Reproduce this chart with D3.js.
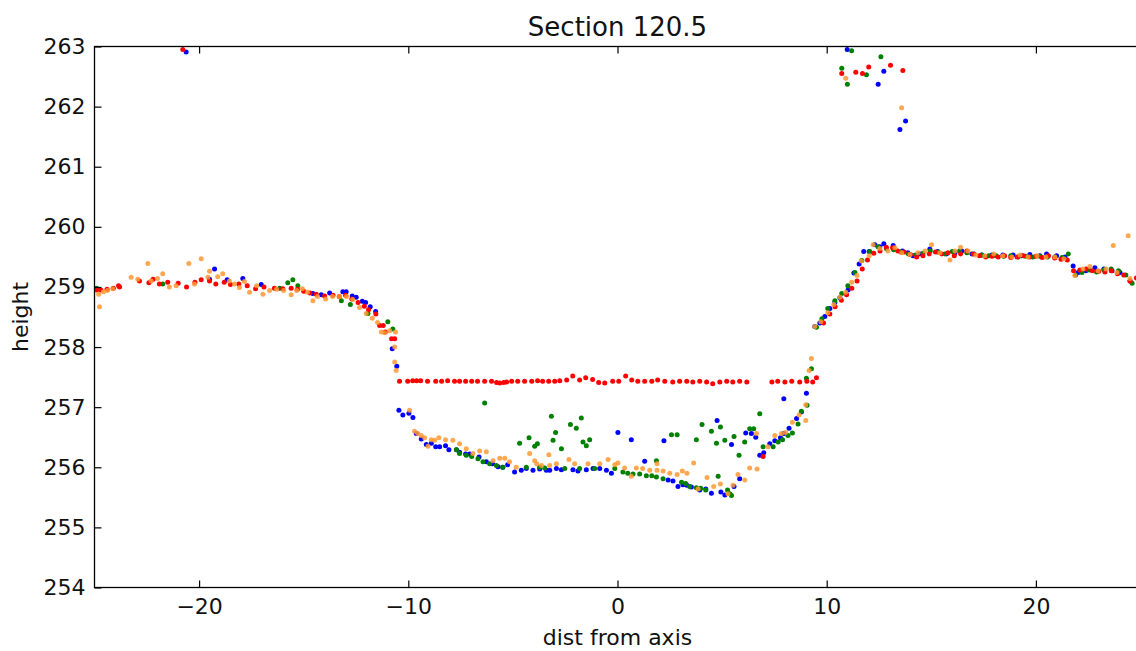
<!DOCTYPE html>
<html>
<head>
<meta charset="utf-8">
<script src="https://cdn.jsdelivr.net/npm/d3@7"></script>
<style>
  body { margin: 0; background: #fff; }
  svg { display: block; font-family: "DejaVu Sans", sans-serif; }
</style>
</head>
<body>
<svg id="chart" width="1136" height="651"></svg>
<script>
// labels and ticks
const title = "Section 120.5";
const xLabel = "dist from axis";
const yLabel = "height";
const xTicks = [-20, -10, 0, 10, 20];
const yTicks = [254, 255, 256, 257, 258, 259, 260, 261, 262, 263];

// survey points per pass, [dist, height]
const bluePts = [
  [-20.62, 262.91],
  [-19.5, 259.13], [-19.26, 259.3], [-18.66, 259.12], [-17.91, 259.14], [-17.03, 259.04],
  [-14.56, 258.89], [-14.16, 258.87], [-13.76, 258.9], [-13.13, 258.92], [-12.97, 258.92], [-12.68, 258.85],
  [-12.49, 258.83], [-12.2, 258.76], [-12.04, 258.74], [-11.82, 258.67], [-11.56, 258.59], [-10.77, 257.97],
  [-10.55, 257.68], [-10.45, 256.95], [-10.26, 256.87], [-9.97, 256.9], [-9.78, 256.83],
  [-9.62, 256.56], [-9.38, 256.47], [-9.14, 256.38], [-8.9, 256.4], [-8.69, 256.34], [-8.5, 256.34],
  [-8.22, 256.36], [-8.06, 256.29], [-7.7, 256.29], [-7.55, 256.25], [-7.26, 256.22], [-7.07, 256.22],
  [-6.62, 256.17], [-6.27, 256.09], [-5.97, 256.06], [-5.71, 256.01], [-5.48, 256.0], [-5.25, 256.04],
  [-4.92, 255.92], [-4.6, 255.95], [-4.36, 255.98], [-4.04, 255.95], [-3.72, 255.97], [-3.4, 255.95],
  [-3.24, 255.95], [-2.92, 255.98], [-2.68, 255.96], [-2.13, 255.96], [-1.89, 255.94], [-1.49, 255.96],
  [-1.17, 255.98], [-0.85, 255.98], [-0.53, 255.95], [-0.29, 255.9],
  [0.02, 256.58], [0.66, 256.46], [1.3, 256.1], [2.22, 256.44],
  [2.42, 255.79], [2.65, 255.77], [2.89, 255.68], [3.13, 255.71], [3.32, 255.7], [3.53, 255.67],
  [3.93, 255.62], [4.22, 255.64], [4.49, 255.57], [4.94, 255.59], [5.13, 255.54], [5.57, 255.68], [5.84, 255.81],
  [4.76, 256.78], [5.45, 256.38],
  [6.13, 256.57], [6.4, 256.56], [6.61, 256.5], [6.8, 256.2], [6.99, 256.24], [7.28, 256.39], [7.52, 256.44],
  [7.79, 256.49], [7.95, 256.56], [8.2, 256.65], [8.56, 256.81], [8.79, 256.92], [7.95, 257.14], [9.03, 257.23],
  [9.43, 258.34], [9.67, 258.4], [9.91, 258.51], [10.15, 258.64], [10.39, 258.74], [10.63, 258.82],
  [11.02, 258.95], [11.3, 259.23], [11.55, 259.38], [11.77, 259.59], [12.03, 259.59], [12.3, 259.7],
  [12.54, 259.67], [12.73, 259.72], [13.18, 259.69], [13.62, 259.6], [13.88, 259.57], [14.13, 259.52],
  [14.45, 259.55], [14.93, 259.63], [15.31, 259.59], [15.73, 259.55], [16.13, 259.57], [16.46, 259.6],
  [16.94, 259.55], [17.42, 259.53], [17.9, 259.53], [18.42, 259.53], [18.91, 259.53], [19.33, 259.52],
  [19.71, 259.54], [20.19, 259.52], [20.51, 259.55], [20.99, 259.52], [21.39, 259.5], [21.78, 259.35],
  [22.02, 259.24], [22.39, 259.27], [22.82, 259.32], [23.25, 259.3], [23.64, 259.27], [24.02, 259.24], [24.5, 259.1],
  [10.98, 262.95], [12.73, 262.59], [12.46, 262.37], [13.77, 261.76], [13.5, 261.62]
];

const greenPts = [
  [-24.9, 258.98], [-21.74, 259.05], [-16.15, 258.98], [-15.76, 259.07], [-15.52, 259.12], [-15.28, 259.02],
  [-13.2, 258.77], [-12.77, 258.71], [-11.93, 258.56], [-10.98, 258.42], [-10.74, 258.3],
  [-6.35, 257.07],
  [-7.7, 256.29], [-7.55, 256.23], [-7.23, 256.2], [-6.97, 256.18], [-6.67, 256.14], [-6.43, 256.09],
  [-6.11, 256.06], [-5.79, 256.03], [-5.49, 256.0], [-4.36, 256.0], [-3.72, 256.0], [-3.48, 255.99],
  [-2.52, 255.98], [-1.81, 255.98], [-1.09, 255.98], [-0.13, 255.98], [0.26, 255.92], [0.49, 255.9],
  [0.74, 255.89], [1.06, 255.89], [1.38, 255.86], [1.64, 255.86], [1.86, 255.84], [2.18, 255.81],
  [3.06, 255.75], [3.26, 255.73], [3.45, 255.68], [3.77, 255.66], [3.98, 255.65], [4.22, 255.62],
  [4.81, 255.85], [5.26, 255.62], [5.37, 255.56], [5.45, 255.53],
  [-4.68, 256.4], [-4.23, 256.49], [-3.96, 256.35], [-3.83, 256.39], [-3.16, 256.85], [-2.96, 256.58],
  [-3.08, 256.45], [-2.68, 256.31], [-2.25, 256.71], [-1.97, 256.65], [-1.73, 256.82], [-1.65, 256.42],
  [-1.49, 256.36], [-1.33, 256.46], [1.86, 256.11], [2.58, 256.54], [2.85, 256.54], [3.77, 256.46],
  [4.04, 256.71], [4.49, 256.6], [4.73, 256.4], [4.92, 256.67], [5.13, 256.45], [5.57, 256.51],
  [5.81, 256.2], [6.08, 256.42], [6.32, 256.64], [6.51, 256.64], [6.8, 256.89],
  [6.96, 256.34], [7.44, 256.34], [7.68, 256.42], [7.89, 256.46], [8.15, 256.53], [8.36, 256.57],
  [8.63, 256.72], [8.79, 256.93], [9.06, 257.03], [9.03, 257.48], [9.27, 257.64],
  [9.51, 258.33], [9.77, 258.47], [10.05, 258.64], [10.39, 258.77], [10.72, 258.89], [11.01, 259.02],
  [11.35, 259.24], [11.68, 259.44], [12.06, 259.59], [12.45, 259.67], [12.85, 259.64], [13.2, 259.62],
  [13.55, 259.58], [13.9, 259.55], [14.25, 259.53], [14.6, 259.56], [14.95, 259.6], [15.3, 259.58],
  [15.65, 259.55], [16.0, 259.59], [16.35, 259.6], [16.7, 259.57], [17.05, 259.55], [17.4, 259.53],
  [17.75, 259.52], [18.1, 259.52], [18.45, 259.51], [18.8, 259.52], [19.15, 259.5], [19.5, 259.51],
  [19.85, 259.5], [20.2, 259.51], [20.55, 259.5], [20.9, 259.5], [21.25, 259.49], [21.55, 259.55],
  [21.9, 259.2], [22.2, 259.24], [22.55, 259.28], [22.9, 259.25], [23.25, 259.28], [23.6, 259.3],
  [23.95, 259.27], [24.3, 259.2], [24.6, 259.06], [24.9, 259.2],
  [11.19, 262.93], [12.59, 262.83], [10.72, 262.64], [11.9, 262.53], [10.99, 262.37]
];

const redPts = [
  [-20.78, 262.95],
  [-24.9, 258.95], [-24.7, 258.95], [-24.4, 258.96], [-24.1, 258.98], [-23.85, 259.02], [-23.8, 259.0],
  [-22.85, 259.1], [-22.4, 259.07], [-22.2, 259.13], [-21.9, 259.05], [-21.5, 259.08], [-21.0, 259.06],
  [-20.6, 259.0], [-20.2, 259.08], [-19.9, 259.12], [-19.5, 259.1], [-19.2, 259.05], [-18.8, 259.08],
  [-18.5, 259.04], [-18.1, 259.05], [-17.7, 259.02], [-17.3, 258.97], [-16.9, 259.0], [-16.4, 258.98],
  [-16.0, 258.97], [-15.6, 258.98], [-15.3, 258.96], [-15.0, 258.93], [-14.7, 258.9], [-14.4, 258.88],
  [-14.0, 258.85], [-13.6, 258.86], [-13.3, 258.84], [-13.0, 258.86], [-12.7, 258.8], [-12.4, 258.74],
  [-12.1, 258.68], [-11.9, 258.62], [-11.55, 258.55], [-11.37, 258.36], [-11.2, 258.36], [-11.1, 258.25],
  [-10.8, 258.14], [-10.65, 258.14],
  [-10.42, 257.43], [-10.03, 257.43], [-9.79, 257.44], [-9.6, 257.44], [-9.41, 257.44], [-9.08, 257.43],
  [-8.69, 257.43], [-8.41, 257.43], [-8.12, 257.44], [-7.79, 257.43], [-7.55, 257.43], [-7.26, 257.43],
  [-6.97, 257.43], [-6.69, 257.43], [-6.35, 257.43], [-6.02, 257.43], [-5.78, 257.41], [-5.63, 257.4],
  [-5.44, 257.41], [-5.3, 257.42], [-5.06, 257.43], [-4.77, 257.43], [-4.44, 257.43], [-4.1, 257.43],
  [-3.82, 257.44], [-3.58, 257.43], [-3.29, 257.43], [-3.0, 257.43], [-2.76, 257.44], [-2.43, 257.45],
  [-2.14, 257.52], [-1.81, 257.45], [-1.52, 257.49], [-1.19, 257.46], [-0.9, 257.41], [-0.61, 257.4],
  [-0.23, 257.43], [0.06, 257.43], [0.39, 257.52], [0.68, 257.45], [0.97, 257.43], [1.3, 257.43],
  [1.64, 257.43], [1.92, 257.45], [2.26, 257.43], [2.64, 257.42], [2.97, 257.43], [3.31, 257.43],
  [3.6, 257.42], [3.93, 257.43], [4.26, 257.42], [4.55, 257.39], [4.89, 257.42], [5.22, 257.43],
  [5.51, 257.42], [5.84, 257.43], [6.18, 257.42], [7.38, 257.42], [7.66, 257.43], [8.0, 257.42],
  [8.33, 257.43], [8.71, 257.42], [9.05, 257.43], [9.33, 257.42], [9.51, 257.49],
  [6.96, 256.18],
  [9.85, 258.4], [10.15, 258.55], [10.4, 258.67], [10.7, 258.78], [10.95, 258.87], [11.2, 258.98],
  [11.45, 259.1], [11.7, 259.3], [11.95, 259.45], [12.25, 259.56], [12.55, 259.6], [12.85, 259.66],
  [13.15, 259.65], [13.4, 259.6], [13.7, 259.58], [14.0, 259.54], [14.3, 259.5], [14.6, 259.52],
  [14.9, 259.55], [15.2, 259.58], [15.5, 259.55], [15.8, 259.57], [16.1, 259.52], [16.4, 259.55],
  [16.7, 259.6], [17.0, 259.55], [17.3, 259.52], [17.6, 259.5], [17.9, 259.51], [18.2, 259.5],
  [18.5, 259.52], [18.8, 259.49], [19.1, 259.5], [19.4, 259.52], [19.7, 259.5], [20.0, 259.51],
  [20.3, 259.49], [20.6, 259.52], [20.9, 259.48], [21.2, 259.46], [21.5, 259.45], [21.8, 259.27],
  [22.1, 259.28], [22.4, 259.3], [22.7, 259.27], [23.0, 259.26], [23.3, 259.25], [23.6, 259.27],
  [23.9, 259.22], [24.2, 259.2], [24.5, 259.1], [24.8, 259.15],
  [10.72, 262.55], [11.39, 262.57], [11.71, 262.55], [12.01, 262.66], [13.05, 262.69], [13.64, 262.6]
];

const orangePts = [
  [-24.76, 258.67], [-24.8, 258.88], [-24.57, 258.92], [-24.38, 258.94], [-24.13, 258.97], [-23.25, 259.16],
  [-22.93, 259.13], [-22.45, 259.39], [-22.29, 259.1], [-21.99, 259.14], [-21.74, 259.22], [-21.42, 259.0],
  [-21.1, 259.02], [-20.49, 259.39], [-20.22, 259.05], [-19.9, 259.47], [-19.58, 259.16], [-19.5, 259.26],
  [-19.11, 259.17], [-18.87, 259.22], [-18.55, 259.1], [-18.31, 259.05], [-18.07, 258.99], [-17.83, 259.09],
  [-17.59, 258.91], [-17.25, 259.02], [-16.95, 258.88], [-16.63, 258.94], [-16.3, 258.96], [-15.96, 258.94],
  [-15.6, 258.87], [-15.34, 258.94], [-15.06, 258.97], [-14.82, 258.91], [-14.56, 258.77], [-14.34, 258.84],
  [-13.95, 258.8], [-13.62, 258.84], [-13.29, 258.84], [-12.95, 258.84], [-12.66, 258.79], [-12.33, 258.66],
  [-12.01, 258.56], [-11.72, 258.48], [-11.47, 258.41], [-11.29, 258.25], [-11.13, 258.24], [-10.89, 258.27],
  [-10.61, 258.25], [-10.65, 258.0], [-10.65, 257.75], [-10.58, 257.61],
  [-9.94, 256.95], [-9.7, 256.6], [-9.55, 256.56], [-9.38, 256.53], [-9.22, 256.49], [-9.06, 256.35],
  [-8.9, 256.46], [-8.74, 256.45], [-8.54, 256.49], [-8.22, 256.46], [-7.87, 256.45], [-7.55, 256.39],
  [-7.23, 256.31], [-6.91, 256.23], [-6.59, 256.27], [-6.27, 256.26], [-5.95, 256.11], [-5.63, 256.15],
  [-5.39, 256.15], [-5.16, 256.09], [-4.84, 256.0], [-4.2, 256.23], [-3.96, 256.11], [-3.86, 256.06],
  [-3.63, 256.03], [-3.28, 256.21], [-3.24, 256.03], [-2.92, 256.06], [-2.32, 256.13], [-2.05, 256.06],
  [-1.41, 256.06], [-0.85, 256.06], [-0.45, 256.13], [-0.13, 256.04], [0.02, 256.07], [0.34, 255.99],
  [0.66, 255.85], [0.9, 255.99], [1.2, 255.98], [1.54, 255.95], [1.89, 256.06], [1.89, 255.95],
  [2.18, 255.94], [2.5, 255.9], [2.85, 255.88], [3.1, 255.94], [3.32, 255.9], [3.64, 256.07],
  [3.85, 255.64], [4.28, 255.83], [4.6, 255.68], [4.92, 255.72], [5.28, 255.56], [5.52, 255.7],
  [5.76, 255.88], [6.08, 255.79], [6.32, 255.99], [6.67, 255.97],
  [6.64, 256.56], [7.2, 256.34], [7.52, 256.53], [7.84, 256.56], [8.04, 256.58], [8.36, 256.75],
  [8.68, 256.87], [9.0, 257.04], [9.0, 256.78], [9.16, 257.61], [9.27, 257.81],
  [9.43, 258.34], [9.72, 258.42], [10.05, 258.57], [10.34, 258.71], [10.63, 258.83], [10.91, 258.91],
  [11.19, 259.08], [11.45, 259.19], [11.66, 259.43], [12.03, 259.52], [12.22, 259.7], [12.54, 259.64],
  [12.92, 259.6], [13.26, 259.65], [13.59, 259.57], [13.98, 259.54], [14.36, 259.57], [14.7, 259.6],
  [15.01, 259.7], [15.41, 259.57], [15.89, 259.45], [16.13, 259.6], [16.4, 259.66], [16.75, 259.6],
  [17.13, 259.53], [17.56, 259.52], [17.99, 259.55], [18.42, 259.52], [18.85, 259.5], [19.24, 259.53],
  [19.62, 259.5], [20.05, 259.52], [20.48, 259.5], [20.91, 259.5], [21.34, 259.47], [21.86, 259.19],
  [22.25, 259.3], [22.58, 259.34], [22.97, 259.27], [23.35, 259.3], [23.7, 259.69], [23.87, 259.24],
  [24.41, 259.85], [24.5, 259.14],
  [10.91, 262.47], [13.58, 261.98]
];

const series = [
  { name: "blue", color: "#0000ff", points: bluePts },
  { name: "green", color: "#008000", points: greenPts },
  { name: "red", color: "#ff0000", points: redPts },
  { name: "orange", color: "#ff9933", points: orangePts }
];

const svg = d3.select("#chart");
const plot = { left: 94.5, top: 46.5, right: 1140.5, bottom: 587.5 };

const x = d3.scaleLinear().domain([-25, 25]).range([plot.left, plot.right]);
const y = d3.scaleLinear().domain([254, 263]).range([plot.bottom, plot.top]);

svg.append("rect").attr("width", 1136).attr("height", 651).attr("fill", "#fff");

svg.append("clipPath").attr("id", "plot-clip")
  .append("rect")
  .attr("x", plot.left).attr("y", plot.top)
  .attr("width", plot.right - plot.left).attr("height", plot.bottom - plot.top);

// points
const dots = svg.append("g").attr("clip-path", "url(#plot-clip)");
series.forEach((s) => {
  dots.append("g")
    .selectAll("circle")
    .data(s.points)
    .enter()
    .append("circle")
    .attr("cx", (d) => x(d[0]))
    .attr("cy", (d) => y(d[1]))
    .attr("r", 2.5)
    .attr("fill", s.color)
    .attr("opacity", s.name === "orange" ? 0.85 : 1);
});

// axes, ticks pointing inwards like matplotlib classic
const styleAxis = (g) => {
  g.attr("font-size", 22).attr("font-family", "DejaVu Sans, sans-serif");
  g.select(".domain").remove();
  g.selectAll(".tick line").attr("stroke", "#000").attr("stroke-width", 1.2);
  g.selectAll(".tick text").attr("fill", "#111");
};

svg.append("g")
  .attr("transform", `translate(0,${plot.bottom})`)
  .call(d3.axisBottom(x).tickValues(xTicks).tickSizeInner(-7).tickSizeOuter(0).tickPadding(11))
  .call(styleAxis);

svg.append("g")
  .attr("transform", `translate(0,${plot.top})`)
  .call(d3.axisTop(x).tickValues(xTicks).tickSizeInner(-7).tickSizeOuter(0).tickFormat(""))
  .call(styleAxis);

svg.append("g")
  .attr("transform", `translate(${plot.left},0)`)
  .call(d3.axisLeft(y).tickValues(yTicks).tickSizeInner(-7).tickSizeOuter(0).tickPadding(9).tickFormat(d3.format("d")))
  .call(styleAxis);

// frame
svg.append("rect")
  .attr("x", plot.left).attr("y", plot.top)
  .attr("width", plot.right - plot.left).attr("height", plot.bottom - plot.top)
  .attr("fill", "none").attr("stroke", "#000").attr("stroke-width", 1.3);

// texts
svg.append("text")
  .attr("x", (plot.left + plot.right) / 2).attr("y", 36)
  .attr("text-anchor", "middle").attr("font-size", 26).attr("fill", "#111")
  .text(title);

svg.append("text")
  .attr("x", (plot.left + plot.right) / 2).attr("y", 645)
  .attr("text-anchor", "middle").attr("font-size", 22).attr("fill", "#111")
  .text(xLabel);

svg.append("text")
  .attr("transform", `translate(28,${(plot.top + plot.bottom) / 2}) rotate(-90)`)
  .attr("text-anchor", "middle").attr("font-size", 22).attr("fill", "#111")
  .text(yLabel);
</script>
</body>
</html>
